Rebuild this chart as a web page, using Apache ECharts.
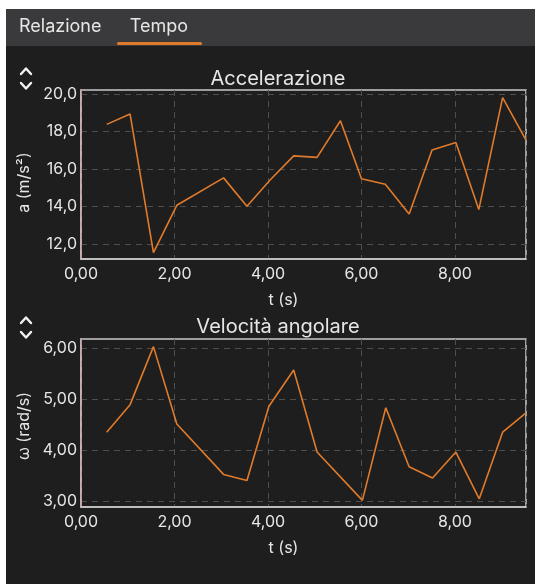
<!DOCTYPE html>
<html>
<head>
<meta charset="utf-8">
<script src="https://cdn.jsdelivr.net/npm/echarts@6/dist/echarts.min.js"></script>
<style>
html,body{margin:0;padding:0;background:#1e1e1e;}
#c{width:535px;height:584px;}
</style>
</head>
<body>
<div id="c"></div>
<script>
const tabs = ['Relazione', 'Tempo'];
const titles = ['Accelerazione', 'Velocità angolare'];
const yNames = ['a (m/s²)', 'ω (rad/s)'];
const xName = 't (s)';
const accTicks = [12, 14, 16, 18, 20];
const omegaTicks = [3, 4, 5, 6];

const tAcc = [0.55, 1.05, 1.55, 2.05, 3.05, 3.55, 4.05, 4.55, 5.05, 5.55, 6.0, 6.51, 7.02, 7.51, 8.02, 8.51, 9.02, 9.52];
const accValues = [18.37, 18.92, 11.54, 14.06, 15.52, 14.01, 15.42, 16.69, 16.61, 18.56, 15.47, 15.18, 13.6, 17.0, 17.41, 13.83, 19.79, 17.53];

const tOmega = [0.55, 1.05, 1.55, 2.05, 3.05, 3.55, 4.02, 4.55, 5.05, 6.02, 6.52, 7.02, 7.52, 8.02, 8.52, 9.02, 9.52];
const omegaValues = [4.36, 4.90, 6.04, 4.52, 3.53, 3.41, 4.87, 5.58, 3.97, 3.02, 4.84, 3.68, 3.46, 3.97, 3.05, 4.36, 4.74];

const FONT = 'Inter, "Noto Sans", sans-serif';
const TXT = '#e6e6e6';
const ORANGE = '#e07b2c';
const GRIDC = '#4e4e4e';

const chart = echarts.init(document.getElementById('c'), null, {renderer: 'canvas'});

function xAxisOpt(gi) {
  return {
    type: 'value', gridIndex: gi, min: 0, max: 9.52, interval: 2,
    name: xName, nameLocation: 'middle', nameGap: 33,
    nameTextStyle: {color: TXT, fontSize: 16, fontFamily: FONT, padding: [0, 40, 0, 0]},
    axisLine: {show: true, lineStyle: {color: '#c9c9c9', width: 1.5}},
    axisTick: {show: false},
    axisLabel: {color: TXT, fontSize: 16, fontFamily: FONT, margin: 7, showMaxLabel: false,
      formatter: v => v.toFixed(2).replace('.', ',')},
    splitLine: {show: true, lineStyle: {color: GRIDC, type: [6, 5], width: 1}}
  };
}
function yAxisOpt(gi, min, max, ticks, dec, name, gap, pad) {
  return {
    type: 'value', gridIndex: gi, min: min, max: max,
    name: name, nameLocation: 'middle', nameGap: gap, nameRotate: 90,
    nameTextStyle: {color: TXT, fontSize: 16, fontFamily: FONT, padding: pad},
    axisLine: {show: true, lineStyle: {color: '#d6b4b4', width: 1.5}},
    axisTick: {show: false, customValues: ticks},
    axisLabel: {color: TXT, fontSize: 16, fontFamily: FONT, margin: 4, customValues: ticks,
      formatter: v => v.toFixed(dec).replace('.', ',')},
    splitLine: {show: true, lineStyle: {color: GRIDC, type: [6, 5], width: 1}}
  };
}

function chevrons(cx, y1, y2) {
  const w = 5, h = 3;
  const st = {stroke: '#f2f2f2', lineWidth: 2.4, lineCap: 'round', lineJoin: 'round', fill: null};
  return [
    {type: 'polyline', shape: {points: [[cx - w, y1 + h], [cx, y1 - h + 0.5], [cx + w, y1 + h]]}, style: st},
    {type: 'polyline', shape: {points: [[cx - w, y2 - h], [cx, y2 + h - 0.5], [cx + w, y2 - h]]}, style: st}
  ];
}

chart.setOption({
  backgroundColor: '#1e1e1e',
  animation: false,
  title: [
    {text: titles[0], left: 273, top: 64, textAlign: 'center',
      textStyle: {color: TXT, fontSize: 20, fontWeight: 'normal', fontFamily: FONT}},
    {text: titles[1], left: 273, top: 312, textAlign: 'center',
      textStyle: {color: TXT, fontSize: 20, fontWeight: 'normal', fontFamily: FONT}}
  ],
  grid: [
    {left: 81, top: 90, width: 445, height: 169, show: true, borderColor: '#c9c9c9', borderWidth: 1.5, backgroundColor: 'transparent'},
    {left: 81, top: 339, width: 445, height: 168, show: true, borderColor: '#c9c9c9', borderWidth: 1.5, backgroundColor: 'transparent'}
  ],
  xAxis: [xAxisOpt(0), xAxisOpt(1)],
  yAxis: [
    yAxisOpt(0, 11.2, 20.2, accTicks, 1, yNames[0], 48, [0, 16, 0, 0]),
    yAxisOpt(1, 2.89, 6.19, omegaTicks, 2, yNames[1], 48, [0, 6, 0, 0])
  ],
  series: [
    {type: 'line', xAxisIndex: 0, yAxisIndex: 0, data: tAcc.map((t, i) => [t, accValues[i]]),
      showSymbol: false, lineStyle: {color: ORANGE, width: 1.6}, clip: true},
    {type: 'line', xAxisIndex: 1, yAxisIndex: 1, data: tOmega.map((t, i) => [t, omegaValues[i]]),
      showSymbol: false, lineStyle: {color: ORANGE, width: 1.6}, clip: true}
  ],
  graphic: [
    {type: 'rect', shape: {x: 0, y: 0, width: 535, height: 46}, style: {fill: '#3a3a3c'}, z: -1},
    {type: 'rect', shape: {x: 0, y: 0, width: 535, height: 9}, style: {fill: '#ffffff'}, z: 10},
    {type: 'rect', shape: {x: 0, y: 0, width: 6, height: 584}, style: {fill: '#ffffff'}, z: 10},
    {type: 'text', x: 19, y: 27, style: {text: tabs[0], fill: TXT, fontSize: 18, fontFamily: FONT, verticalAlign: 'middle'}},
    {type: 'text', x: 159, y: 27, style: {text: tabs[1], fill: TXT, fontSize: 18, fontFamily: FONT, align: 'center', verticalAlign: 'middle'}},
    {type: 'rect', shape: {x: 117, y: 42, width: 85, height: 3, r: 1.5}, style: {fill: ORANGE}},
    ...chevrons(26, 71, 86),
    ...chevrons(26, 320, 335)
  ]
});
</script>
</body>
</html>
